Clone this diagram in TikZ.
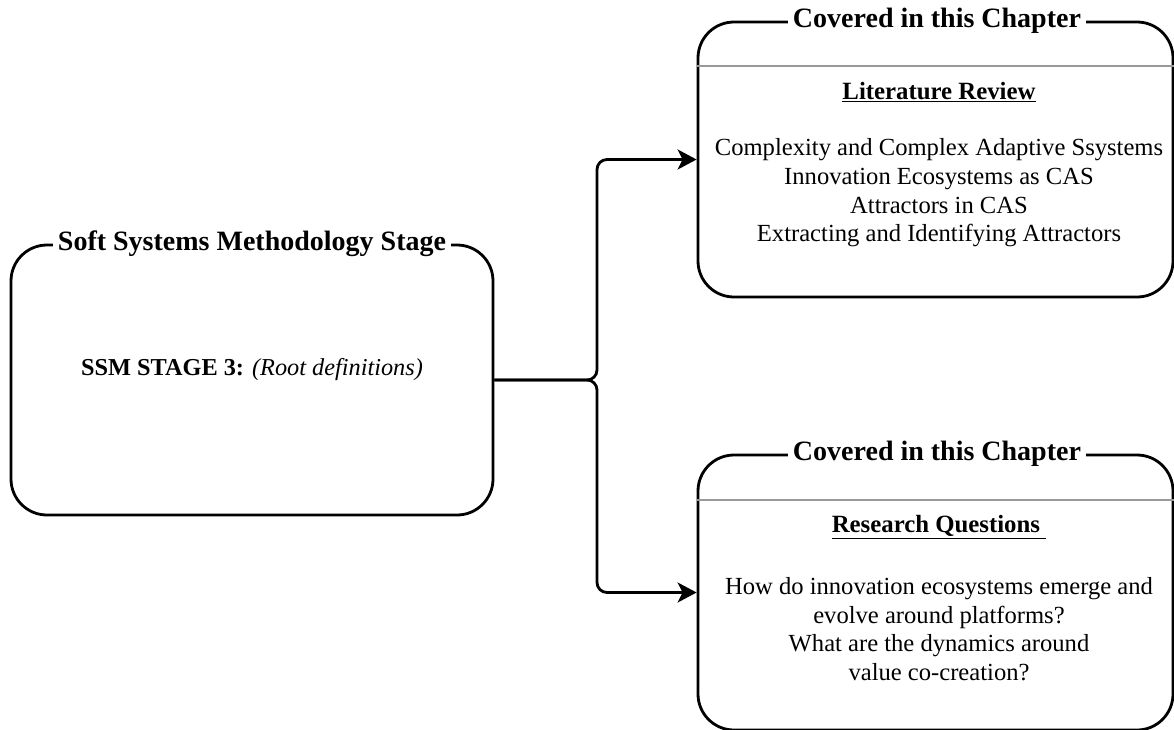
\documentclass[tikz,border=0pt]{standalone}
\usepackage{fontspec}
\setmainfont{Liberation Serif}
\usetikzlibrary{arrows.meta}

\tikzset{
  frame/.style={draw=black, line width=2.8pt, rounded corners=36pt, fill=none,
    inner sep=0pt},
  frametitle/.style={fill=white, inner xsep=5pt, inner ysep=1pt,
    font=\fontsize{28}{32}\selectfont\bfseries},
  divider/.style={draw=black!40, line width=1.3pt},
  heading/.style={font=\fontsize{24.8}{28}\selectfont\bfseries},
  bodytext/.style={align=center, font=\fontsize{24.6}{28.6}\selectfont},
  link/.style={draw=black, line width=2.8pt, rounded corners=10pt,
    -{Stealth[length=19pt, width=20pt, inset=5pt]}},
}

\begin{document}
\begin{tikzpicture}[x=1pt, y=-1pt]
  \useasboundingbox (0,0) rectangle (1174,729);

  % stage box on the left
  \node[frame, minimum width=482pt, minimum height=270pt] (stage) at (252,380) {};
  \node[frametitle] (stagetitle) at (252,244) {Soft Systems Methodology Stage};
  \node[font=\fontsize{24.3}{28}\selectfont] (stagetext) at (252,370)
    {\textbf{SSM STAGE 3:} \textit{(Root definitions)}};

  % literature review box
  \node[frame, minimum width=475pt, minimum height=275pt] (lit) at (935.5,159.5) {};
  \draw[divider] (lit.west |- 0,66) -- (lit.east |- 0,66);
  \node[frametitle] (littitle) at (937,21) {Covered in this Chapter};
  \node[heading] (lithead) at (939,92) {\underline{Literature Review}};
  \node[bodytext] (litbody) at (939,193)
    {Complexity and Complex Adaptive Ssystems\\
     Innovation Ecosystems as CAS\\
     Attractors in CAS\\
     Extracting and Identifying Attractors};

  % research questions box
  \node[frame, minimum width=475pt, minimum height=275pt] (rq) at (935.5,592.5) {};
  \draw[divider] (rq.west |- 0,500) -- (rq.east |- 0,500);
  \node[frametitle] (rqtitle) at (937,454) {Covered in this Chapter};
  \node[heading] (rqhead) at (939,527) {\underline{Research Questions\ }};
  \node[bodytext] (rqbody) at (939,629)
    {How do innovation ecosystems emerge and\\
     evolve around platforms?\\
     What are the dynamics around\\
     value co-creation?};

  % branching connectors
  \coordinate (fork) at (597,380);
  \draw[link] (stage.east) -- (fork) |- (lit.west);
  \draw[link] (stage.east) -- (fork) |- (rq.west);
\end{tikzpicture}
\end{document}
